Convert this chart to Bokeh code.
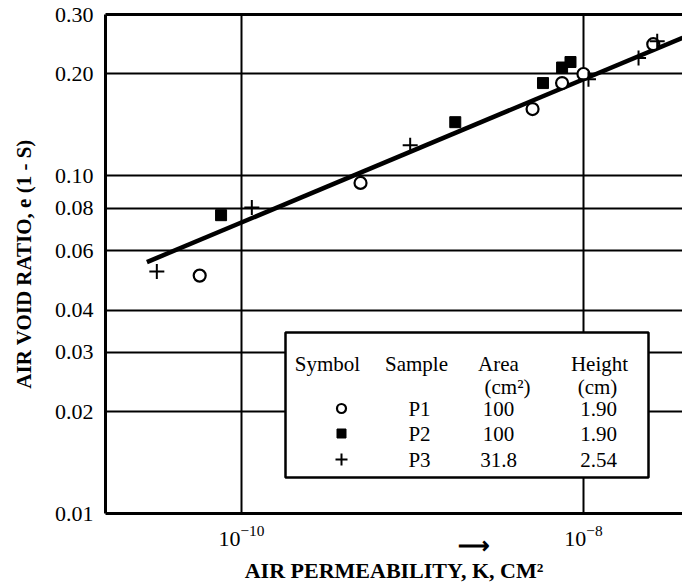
import math
from bokeh.plotting import figure
from bokeh.models import FixedTicker, LogAxis, BoxAnnotation, Label, Range1d
from bokeh.embed import file_html
from bokeh.resources import INLINE

# ---------------- data ----------------
p1_k = [5.7e-11, 4.97e-10, 5.04e-9, 7.5e-9, 1.0e-8, 2.56e-8]
p1_e = [0.0506, 0.0952, 0.1575, 0.188, 0.200, 0.245]

p2_k = [7.6e-11, 1.78e-9, 5.8e-9, 7.5e-9, 8.4e-9]
p2_e = [0.0764, 0.144, 0.188, 0.209, 0.217]

p3_k = [3.2e-11, 1.15e-10, 9.7e-10, 1.07e-8, 2.1e-8, 2.7e-8]
p3_e = [0.052, 0.0805, 0.123, 0.193, 0.223, 0.250]

fit_k = [2.8e-11, 3.8e-8]
fit_e = [0.0555, 0.256]

x_ticks = [1e-10, 1e-8]
y_ticks = [0.01, 0.02, 0.03, 0.04, 0.06, 0.08, 0.10, 0.20, 0.30]
y_tick_labels = ["0.01", "0.02", "0.03", "0.04", "0.06", "0.08", "0.10", "0.20", "0.30"]

table_header = ["Symbol", "Sample", "Area", "Height"]
table_units = ["(cm\u00b2)", "(cm)"]
samples = ["P1", "P2", "P3"]
areas = ["100", "100", "31.8"]
heights = ["1.90", "1.90", "2.54"]

# ---------------- layout ----------------
W, H = 682, 585
BL, BT, BB = 105, 14, 72
FRAME_W = W - BL
FRAME_H = H - BT - BB
X_LOG0 = -10.795
PX_PER_DEC_X = 171.0
X_LOG1 = X_LOG0 + FRAME_W / PX_PER_DEC_X
Y0, Y1 = 0.01, 0.30

SERIF = "Liberation Serif"

p = figure(width=W, height=H, x_axis_type="log", y_axis_type="log",
           x_range=Range1d(10 ** X_LOG0, 10 ** X_LOG1), y_range=Range1d(Y0, Y1),
           output_backend="svg", toolbar_location=None,
           min_border_left=BL, min_border_top=BT, min_border_bottom=BB,
           min_border_right=0)
p.outline_line_color = None
p.background_fill_color = "white"
p.border_fill_color = "white"

# frame position helpers (canvas px -> data), used to place the table
FL = BL
FB = BT + FRAME_H
PX_PER_DEC_Y = FRAME_H / (math.log10(Y1) - math.log10(Y0))


def kx(px):
    return 10 ** (X_LOG0 + (px - FL) / PX_PER_DEC_X)


def ey(py):
    return 10 ** (math.log10(Y0) + (FB - py) / PX_PER_DEC_Y)


# axes
xa = p.xaxis[0]
xa.ticker = FixedTicker(ticks=x_ticks)
xa.axis_line_width = 3
xa.axis_line_color = "black"
xa.major_tick_line_color = None
xa.minor_tick_line_color = None
xa.major_label_text_font = SERIF
xa.major_label_text_font_size = "22px"
xa.major_label_text_color = "black"
xa.major_label_standoff = 6
# two-line title: vector arrow above the K
xa.axis_label = "\u00a0" * 29 + "\u27f6" + "\nAIR PERMEABILITY, K, CM\u00b2"
xa.axis_label_text_font = SERIF
xa.axis_label_text_font_style = "bold"
xa.axis_label_text_font_size = "22px"
xa.axis_label_text_line_height = 1.0
xa.axis_label_text_color = "black"
xa.axis_label_standoff = -16

ya = p.yaxis[0]
ya.ticker = FixedTicker(ticks=y_ticks)
ya.major_label_overrides = {t: l for t, l in zip(y_ticks, y_tick_labels)}
ya.axis_line_width = 3
ya.axis_line_color = "black"
ya.major_tick_line_color = None
ya.minor_tick_line_color = None
ya.major_label_text_font = SERIF
ya.major_label_text_font_size = "22px"
ya.major_label_text_color = "black"
ya.major_label_standoff = 6
ya.axis_label = "AIR VOID RATIO, e (1 - S)"
ya.axis_label_text_font = SERIF
ya.axis_label_text_font_style = "bold"
ya.axis_label_text_font_size = "21px"
ya.axis_label_text_color = "black"
ya.axis_label_standoff = 16

top = LogAxis(ticker=FixedTicker(ticks=[]), axis_line_width=3, axis_line_color="black",
              major_tick_line_color=None, minor_tick_line_color=None,
              major_label_text_font_size="0px")
p.add_layout(top, "above")

p.xgrid.ticker = FixedTicker(ticks=x_ticks)
p.ygrid.ticker = FixedTicker(ticks=y_ticks)
for g in (p.xgrid[0], p.ygrid[0]):
    g.grid_line_color = "black"
    g.grid_line_width = 2

# regression line and data
p.line(fit_k, fit_e, line_color="black", line_width=4.5)
p.scatter(p1_k, p1_e, marker="circle", size=12, fill_color="white",
          line_color="black", line_width=2.2)
p.scatter(p2_k, p2_e, marker="square", size=11, fill_color="black",
          line_color="black")
p.scatter(p3_k, p3_e, marker="cross", size=15, line_color="black", line_width=2)

# legend table box
box = BoxAnnotation(left=kx(285), right=kx(648), top=ey(332), bottom=ey(477),
                    fill_color="white", fill_alpha=1.0, line_color="black",
                    line_alpha=1.0, line_width=2.5, level="annotation")
p.add_layout(box)


def lab(text, px, py, size="21px", font=SERIF, align="center"):
    p.add_layout(Label(x=kx(px), y=ey(py), text=text, text_font=font,
                       text_font_size=size, text_color="black",
                       text_align=align, text_baseline="middle"))


for t, cx in zip(table_header, [327, 416, 498, 599]):
    lab(t, cx, 363)
for t, cx in zip(table_units, [507, 597]):
    lab(t, cx, 386)
row_y = [408, 433, 459]
for s, a, h, yy in zip(samples, areas, heights, row_y):
    lab(s, 419, yy)
    lab(a, 498, yy)
    lab(h, 598, yy)

p.scatter([kx(341)], [ey(row_y[0])], marker="circle", size=9, fill_color="white",
          line_color="black", line_width=2.2, level="overlay")
p.scatter([kx(341)], [ey(row_y[1])], marker="square", size=9, fill_color="black",
          line_color="black", level="overlay")
p.scatter([kx(341)], [ey(row_y[2])], marker="cross", size=12, line_color="black",
          line_width=2, level="overlay")

open("out.html", "w").write(file_html(p, INLINE))
